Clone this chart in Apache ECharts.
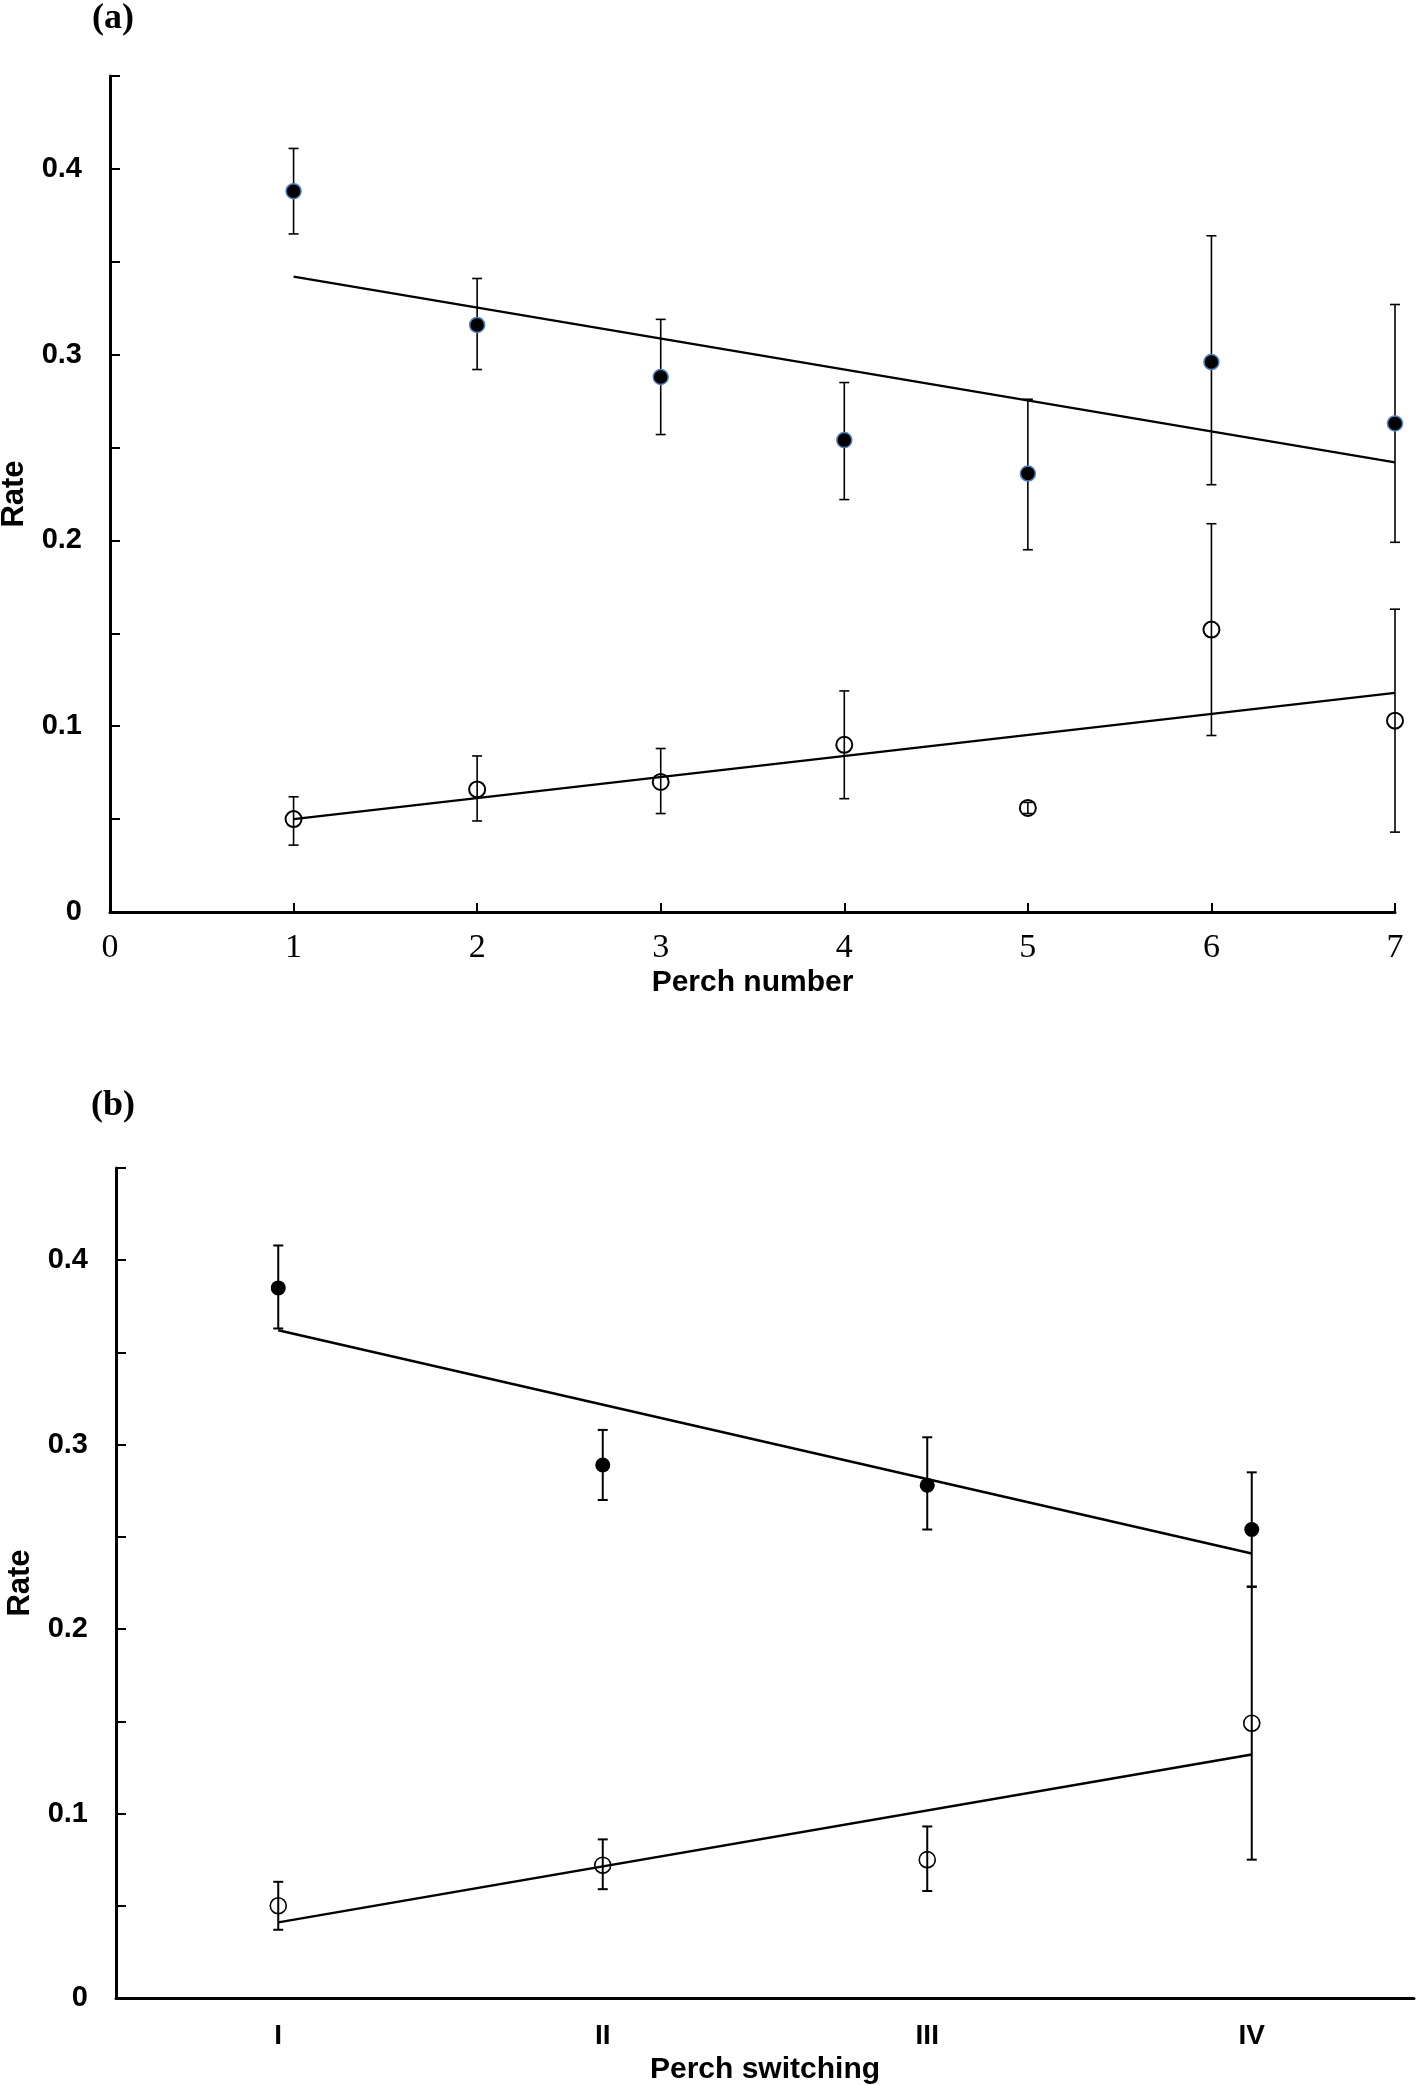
<!DOCTYPE html>
<html>
<head>
<meta charset="utf-8">
<title>Rate by perch</title>
<script src="https://cdn.jsdelivr.net/npm/echarts/dist/echarts.min.js"></script>
<style>
  html, body { margin: 0; padding: 0; background: #fff; }
  #chart { width: 1417px; height: 2085px; }
</style>
</head>
<body>
<div id="chart"></div>
<script>
// panel (a) - perch number
var perchNumbers = [1, 2, 3, 4, 5, 6, 7]
var aFilledMean = [0.388, 0.316, 0.288, 0.254, 0.236, 0.296, 0.263]
var aFilledLow = [0.365, 0.292, 0.257, 0.222, 0.195, 0.230, 0.199]
var aFilledHigh = [0.411, 0.341, 0.319, 0.285, 0.276, 0.364, 0.327]
var aOpenMean = [0.050, 0.066, 0.070, 0.090, 0.056, 0.152, 0.103]
var aOpenLow = [0.036, 0.049, 0.053, 0.061, 0.053, 0.095, 0.043]
var aOpenHigh = [0.062, 0.084, 0.088, 0.119, 0.059, 0.209, 0.163]
var aTrendX = [1, 7]
var aFilledTrend = [0.342, 0.242]
var aOpenTrend = [0.050, 0.118]

// panel (b) - perch switching
var switchCats = ['I', 'II', 'III', 'IV']
var bFilledMean = [0.385, 0.289, 0.278, 0.254]
var bFilledLow = [0.363, 0.270, 0.254, 0.223]
var bFilledHigh = [0.408, 0.308, 0.304, 0.285]
var bOpenMean = [0.050, 0.072, 0.075, 0.149]
var bOpenLow = [0.037, 0.059, 0.058, 0.075]
var bOpenHigh = [0.063, 0.086, 0.093, 0.223]
var bTrendX = ['I', 'IV']
var bFilledTrend = [0.362, 0.241]
var bOpenTrend = [0.041, 0.132]

var yTicks = { min: 0, max: 0.45, interval: 0.05 }

var sans = 'Liberation Sans, Arial, sans-serif'
var serif = 'Liberation Serif, Times New Roman, serif'

function rateLabel (v) {
  var t = Math.round(v * 100)
  if (t % 10 !== 0) return ''
  return t === 0 ? '0' : (t / 100).toFixed(1)
}

function pairs (xs, ys) {
  return xs.map(function (x, i) { return [x, ys[i]] })
}

function bars (xs, lo, hi) {
  return xs.map(function (x, i) { return [x, lo[i], hi[i]] })
}

function errorBar (capHalf, width) {
  return function (params, api) {
    var x = api.value(0)
    var top = api.coord([x, api.value(2)])
    var bot = api.coord([x, api.value(1)])
    var st = { stroke: '#000', lineWidth: width }
    return {
      type: 'group',
      children: [
        { type: 'line', shape: { x1: top[0], y1: top[1], x2: bot[0], y2: bot[1] }, style: st },
        { type: 'line', shape: { x1: top[0] - capHalf, y1: top[1], x2: top[0] + capHalf, y2: top[1] }, style: st },
        { type: 'line', shape: { x1: bot[0] - capHalf, y1: bot[1], x2: bot[0] + capHalf, y2: bot[1] }, style: st }
      ]
    }
  }
}

var axisLine = { show: true, lineStyle: { color: '#000', width: 3 } }

function yAxis (grid, gap) {
  return {
    type: 'value',
    gridIndex: grid,
    min: yTicks.min,
    max: yTicks.max,
    interval: yTicks.interval,
    name: 'Rate',
    nameLocation: 'middle',
    nameGap: gap,
    nameTextStyle: { fontFamily: sans, fontWeight: 'bold', fontSize: 31, color: '#000' },
    axisLine: axisLine,
    axisTick: { show: true, inside: true, length: 10, lineStyle: { color: '#000', width: 2 } },
    axisLabel: { formatter: rateLabel, fontFamily: sans, fontWeight: 'bold', fontSize: 29, color: '#000', margin: 28 },
    splitLine: { show: false }
  }
}

var chart = echarts.init(document.getElementById('chart'))
chart.setOption({
  animation: false,
  backgroundColor: '#fff',
  title: [
    { text: '(a)', left: 87, top: -4, textStyle: { fontFamily: serif, fontWeight: 'bold', fontSize: 36, color: '#000' } },
    { text: '(b)', left: 86, top: 1083, textStyle: { fontFamily: serif, fontWeight: 'bold', fontSize: 36, color: '#000' } }
  ],
  grid: [
    { left: 110, right: 22, top: 76, height: 836, containLabel: false, outerBoundsMode: 'none' },
    { left: 116, right: 3, top: 1168, height: 830, containLabel: false, outerBoundsMode: 'none' }
  ],
  xAxis: [
    {
      type: 'value',
      gridIndex: 0,
      min: 0,
      max: 7,
      interval: 1,
      name: 'Perch number',
      nameLocation: 'middle',
      nameGap: 56,
      nameTextStyle: { fontFamily: sans, fontWeight: 'bold', fontSize: 30, color: '#000' },
      axisLine: axisLine,
      axisTick: { inside: true, length: 9, lineStyle: { color: '#000', width: 2 } },
      axisLabel: { fontFamily: serif, fontSize: 34, color: '#000', margin: 19 },
      splitLine: { show: false }
    },
    {
      type: 'category',
      gridIndex: 1,
      data: switchCats,
      boundaryGap: true,
      name: 'Perch switching',
      nameLocation: 'middle',
      nameGap: 57,
      nameTextStyle: { fontFamily: sans, fontWeight: 'bold', fontSize: 30, color: '#000' },
      axisLine: axisLine,
      axisTick: { inside: true, length: 9, lineStyle: { color: '#000', width: 2 } },
      axisLabel: { fontFamily: sans, fontWeight: 'bold', fontSize: 28, color: '#000', margin: 24 },
      splitLine: { show: false }
    }
  ],
  yAxis: [yAxis(0, 80), yAxis(1, 80)],
  series: [
    // panel a
    { type: 'custom', xAxisIndex: 0, yAxisIndex: 0, renderItem: errorBar(5, 1.6), encode: { x: 0, y: [1, 2] }, data: bars(perchNumbers, aFilledLow, aFilledHigh), z: 1 },
    { type: 'custom', xAxisIndex: 0, yAxisIndex: 0, renderItem: errorBar(5, 1.6), encode: { x: 0, y: [1, 2] }, data: bars(perchNumbers, aOpenLow, aOpenHigh), z: 1 },
    { type: 'line', xAxisIndex: 0, yAxisIndex: 0, symbol: 'none', lineStyle: { color: '#000', width: 2.2 }, data: pairs(aTrendX, aFilledTrend), z: 2 },
    { type: 'line', xAxisIndex: 0, yAxisIndex: 0, symbol: 'none', lineStyle: { color: '#000', width: 2.2 }, data: pairs(aTrendX, aOpenTrend), z: 2 },
    { type: 'scatter', xAxisIndex: 0, yAxisIndex: 0, symbolSize: 15, itemStyle: { color: '#000', borderColor: '#4f81bd', borderWidth: 1.5, opacity: 1 }, data: pairs(perchNumbers, aFilledMean), z: 3 },
    { type: 'scatter', xAxisIndex: 0, yAxisIndex: 0, symbolSize: 16, itemStyle: { color: 'rgba(0,0,0,0)', borderColor: '#000', borderWidth: 2, opacity: 1 }, data: pairs(perchNumbers, aOpenMean), z: 3 },
    // panel b
    { type: 'custom', xAxisIndex: 1, yAxisIndex: 1, renderItem: errorBar(5, 2), encode: { x: 0, y: [1, 2] }, data: bars(switchCats.map(function (c, i) { return i }), bFilledLow, bFilledHigh), z: 1 },
    { type: 'custom', xAxisIndex: 1, yAxisIndex: 1, renderItem: errorBar(5, 2), encode: { x: 0, y: [1, 2] }, data: bars(switchCats.map(function (c, i) { return i }), bOpenLow, bOpenHigh), z: 1 },
    { type: 'line', xAxisIndex: 1, yAxisIndex: 1, symbol: 'none', lineStyle: { color: '#000', width: 2.5 }, data: pairs(bTrendX, bFilledTrend), z: 2 },
    { type: 'line', xAxisIndex: 1, yAxisIndex: 1, symbol: 'none', lineStyle: { color: '#000', width: 2.5 }, data: pairs(bTrendX, bOpenTrend), z: 2 },
    { type: 'scatter', xAxisIndex: 1, yAxisIndex: 1, symbolSize: 15, itemStyle: { color: '#000', opacity: 1 }, data: pairs(switchCats, bFilledMean), z: 3 },
    { type: 'scatter', xAxisIndex: 1, yAxisIndex: 1, symbolSize: 16, itemStyle: { color: 'rgba(0,0,0,0)', borderColor: '#000', borderWidth: 1.6, opacity: 1 }, data: pairs(switchCats, bOpenMean), z: 3 }
  ]
})
</script>
</body>
</html>
